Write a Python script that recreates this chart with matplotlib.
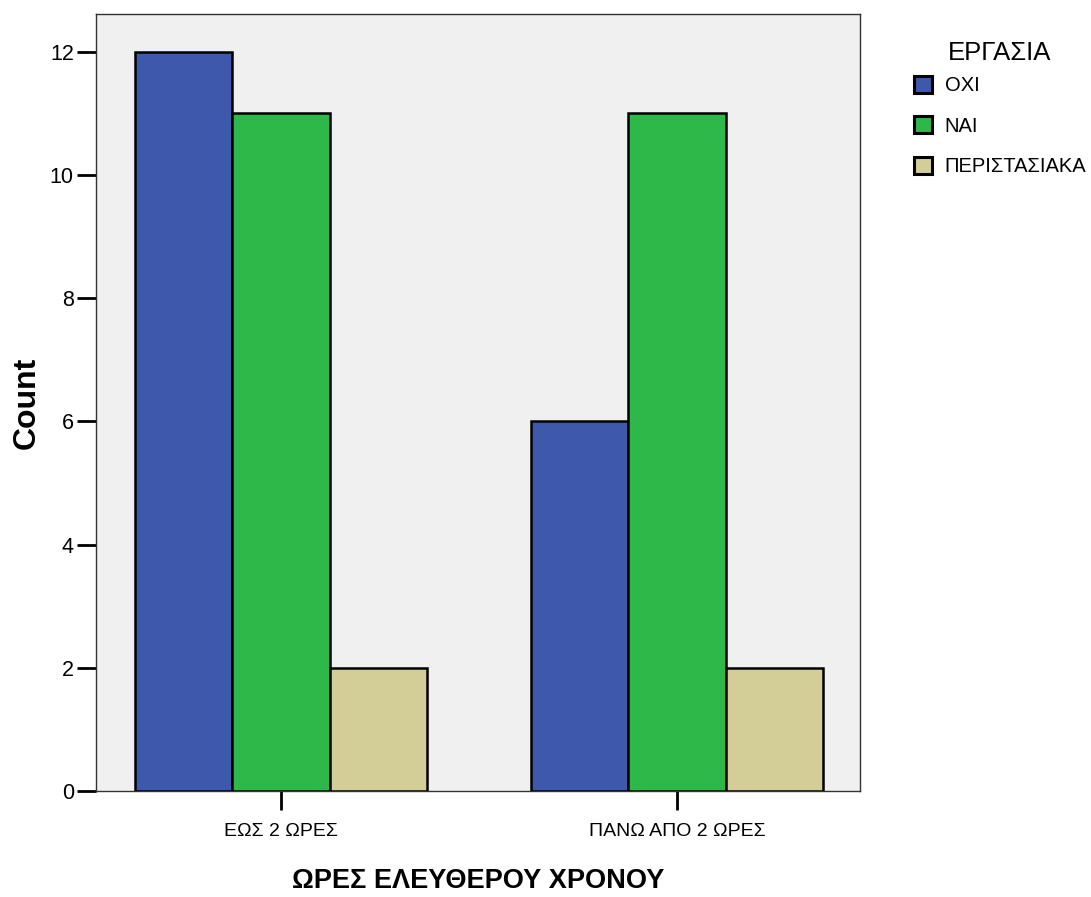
import numpy as np
import matplotlib.pyplot as plt

plt.rcParams['font.family'] = ['Liberation Sans', 'DejaVu Sans']

categories = ['ΕΩΣ 2 ΩΡΕΣ', 'ΠΑΝΩ ΑΠΟ 2 ΩΡΕΣ']
series = ['ΟΧΙ', 'ΝΑΙ', 'ΠΕΡΙΣΤΑΣΙΑΚΑ']
values = {
    'ΟΧΙ': [12, 6],
    'ΝΑΙ': [11, 11],
    'ΠΕΡΙΣΤΑΣΙΑΚΑ': [2, 2],
}
colors = ['#3e58ac', '#2fb84a', '#d3ce97']

barWidth = 0.246

fig = plt.figure(figsize=(10.91, 8.97), dpi=100)
ax = fig.add_axes([0.088, 0.1182, 0.7003, 0.8662])
ax.set_facecolor('#f0f0f0')

x = np.arange(len(categories))
for i, (name, col) in enumerate(zip(series, colors)):
    ax.bar(x + (i - 1) * barWidth, values[name], width=barWidth, color=col,
           edgecolor='black', linewidth=1.8, label=name, zorder=3)

ax.set_xlim(-0.467, 1.462)
ax.set_ylim(0, 12.61)
ax.set_yticks([0, 2, 4, 6, 8, 10, 12])
ax.set_xticks(x)
ax.set_xticklabels(categories, fontsize=14)
ax.tick_params(axis='y', length=14, width=2, labelsize=15.5, pad=2)
ax.tick_params(axis='x', length=14, width=2, pad=9)
for s in ax.spines.values():
    s.set_color('#333333')
    s.set_linewidth(1)

ax.set_ylabel('Count', fontsize=23, fontweight='bold', labelpad=6)
ax.set_xlabel('ΩΡΕΣ ΕΛΕΥΘΕΡΟΥ ΧΡΟΝΟΥ', fontsize=19.5, fontweight='bold', labelpad=20)

leg = ax.legend(title='ΕΡΓΑΣΙΑ', loc='upper left', bbox_to_anchor=(0.830, 0.9635),
                bbox_transform=fig.transFigure, frameon=False, fontsize=14.5,
                title_fontsize=18.5, handlelength=0.9, handleheight=0.9,
                handletextpad=0.65, labelspacing=1.05, borderaxespad=0)
leg._legend_box.sep = 8
for h in leg.legend_handles:
    h.set_linewidth(2.2)

fig.savefig('out.png', dpi=100)
